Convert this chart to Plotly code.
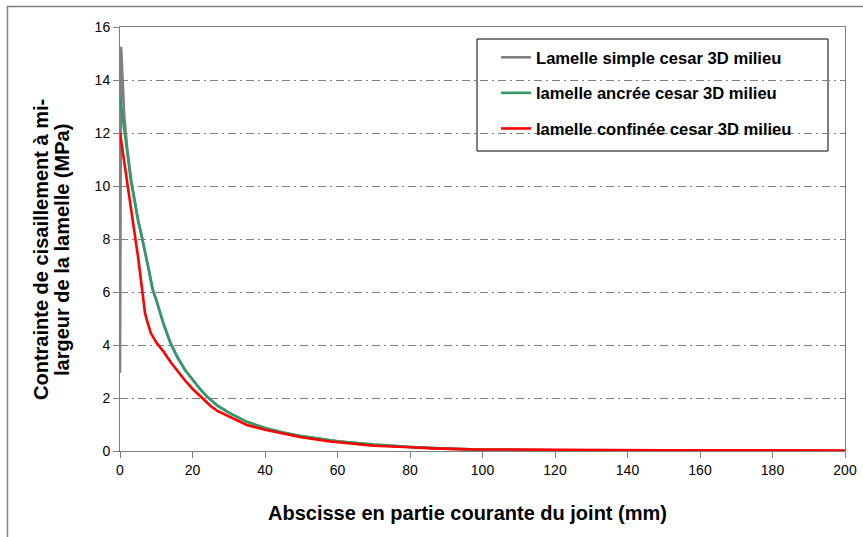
import plotly.graph_objects as go

# Data
x_simple = [0, 0.3, 1.2, 2, 3, 4, 5, 6, 7, 8, 9, 10, 12, 14, 16, 18, 20, 22, 24, 27, 30, 35, 40, 45, 50, 60, 70, 80, 90, 100, 120, 140, 160, 200]
y_simple = [2.95, 15.25, 12.6, 11.4, 10.3, 9.45, 8.7, 8.1, 7.5, 6.8, 6.1, 5.7, 4.8, 4.05, 3.5, 3.05, 2.7, 2.35, 2.05, 1.7, 1.45, 1.1, 0.87, 0.7, 0.56, 0.37, 0.24, 0.15, 0.09, 0.05, 0.03, 0.01, 0.0, 0.0]

x_ancree = [0, 1, 2, 3, 4, 5, 6, 7, 8, 9, 10, 12, 14, 16, 18, 20, 22, 24, 27, 30, 35, 40, 45, 50, 60, 70, 80, 90, 100, 120, 140, 160, 200]
y_ancree = [13.35, 12.4, 11.3, 10.2, 9.4, 8.7, 8.1, 7.5, 6.8, 6.1, 5.7, 4.8, 4.05, 3.5, 3.05, 2.7, 2.35, 2.05, 1.7, 1.45, 1.1, 0.87, 0.7, 0.56, 0.37, 0.24, 0.15, 0.09, 0.05, 0.03, 0.0, 0.0, 0.0]

x_confinee = [0, 1, 2, 3, 4, 5, 6, 6.9, 7.5, 8.5, 10, 12, 14, 16, 18, 20, 22.6, 25, 27, 30, 35, 40, 45, 50, 58, 64, 70, 80, 86, 97, 120, 150, 200]
y_confinee = [12.0, 11.05, 10.1, 9.2, 8.3, 7.3, 6.2, 5.2, 4.9, 4.45, 4.1, 3.75, 3.35, 3.0, 2.65, 2.35, 2.0, 1.7, 1.5, 1.3, 0.98, 0.8, 0.65, 0.52, 0.36, 0.29, 0.2, 0.14, 0.1, 0.06, 0.04, 0.03, 0.02]

names = ["Lamelle simple cesar 3D milieu",
         "lamelle ancrée cesar 3D milieu",
         "lamelle confinée cesar 3D milieu"]
colors = ["#808080", "#339966", "#FF0000"]

x_ticks = [0, 20, 40, 60, 80, 100, 120, 140, 160, 180, 200]
y_ticks = [0, 2, 4, 6, 8, 10, 12, 14, 16]

x_title = "Abscisse en partie courante du joint (mm)"
y_title_lines = ["Contrainte de cisaillement à mi-", "largeur de la lamelle (MPa)"]

W, H = 863, 537
L, R, T, B = 120, 18, 27, 86
pw, ph = W - L - R, H - T - B

def px_x(p):
    return (p - L) / pw

def px_y(p):
    return (H - B - p) / ph

fig = go.Figure()
for i, (xs, ys) in enumerate([(x_simple, y_simple), (x_ancree, y_ancree), (x_confinee, y_confinee)]):
    fig.add_trace(go.Scatter(x=xs, y=ys, mode="lines", name="<b>" + names[i] + "</b>",
                             line=dict(color=colors[i], width=2.6),
                             legendgroup=str(i)))

axis_common = dict(showline=True, linecolor="#808080", linewidth=1, mirror=True,
                   ticks="outside", ticklen=6, tickcolor="#808080",
                   tickfont=dict(family="Arial", size=14, color="black"),
                   zeroline=False, automargin=False)

fig.update_xaxes(range=[0, 200], tickvals=x_ticks, showgrid=False, **axis_common)
fig.update_yaxes(range=[0, 16], tickvals=y_ticks, showgrid=True,
                 gridcolor="#808080", gridwidth=1, griddash="8px,4px,2px,4px",
                 **axis_common)

# axis titles
fig.add_annotation(text="<b>" + x_title + "</b>", xref="paper", yref="paper",
                   x=px_x(467), y=px_y(513), xanchor="center", yanchor="middle",
                   showarrow=False, font=dict(family="Arial", size=20, color="black"))
for k, (line, xp) in enumerate(zip(y_title_lines, [41, 62])):
    fig.add_annotation(text="<b>" + line + "</b>", xref="paper", yref="paper",
                       x=px_x(xp), y=px_y(250), xanchor="center", yanchor="middle",
                       textangle=-90, showarrow=False,
                       font=dict(family="Arial", size=20, color="black"))

# legend box
fig.add_shape(type="rect", xref="paper", yref="paper",
              x0=px_x(477), x1=px_x(828), y0=px_y(151), y1=px_y(39),
              line=dict(color="black", width=1), fillcolor="white", layer="between")

# outer chart frame (left and top edges)
fig.add_shape(type="path", xref="paper", yref="paper",
              path=f"M {px_x(7.5)} {px_y(560)} L {px_x(7.5)} {px_y(6.5)} L {px_x(880)} {px_y(6.5)}",
              line=dict(color="#808080", width=1.5))

fig.update_layout(
    width=W, height=H,
    margin=dict(l=L, r=R, t=T, b=B),
    plot_bgcolor="white", paper_bgcolor="white",
    showlegend=True,
    legend=dict(x=px_x(496), y=px_y(40), xanchor="left", yanchor="top",
                bgcolor="rgba(0,0,0,0)", borderwidth=0,
                font=dict(family="Arial", size=16.6, color="black"),
                tracegroupgap=11, itemwidth=30),
)

fig.write_html("out.html", config={"displayModeBar": False},
               post_script="document.body.style.margin='0';document.body.style.overflow='hidden';")
